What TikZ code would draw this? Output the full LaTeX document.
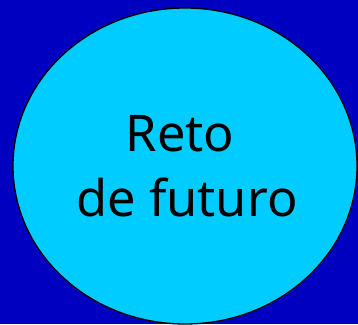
\documentclass[tikz,border=0pt]{standalone}
\usepackage{fontspec}
\setmainfont{Noto Sans}
\usepackage{tikz}
\usepackage{xcolor}
\usetikzlibrary{shapes.geometric}

\definecolor{fondo}{HTML}{0000C0}
\definecolor{cielo}{HTML}{00CCFF}

\begin{document}
\begin{tikzpicture}[x=1pt,y=1pt]
  \fill[fondo] (0,0) rectangle (358,324);
  \useasboundingbox (0,0) rectangle (358,324);

  \node[ellipse, draw=black, line width=1.3pt, fill=cielo,
        minimum width=344pt, minimum height=316pt, inner sep=0pt,
        align=center, font=\fontsize{50.5}{65}\selectfont]
    (reto) at (185,158) {Reto\kern10pt\\ \kern4pt de futuro};
\end{tikzpicture}
\end{document}
